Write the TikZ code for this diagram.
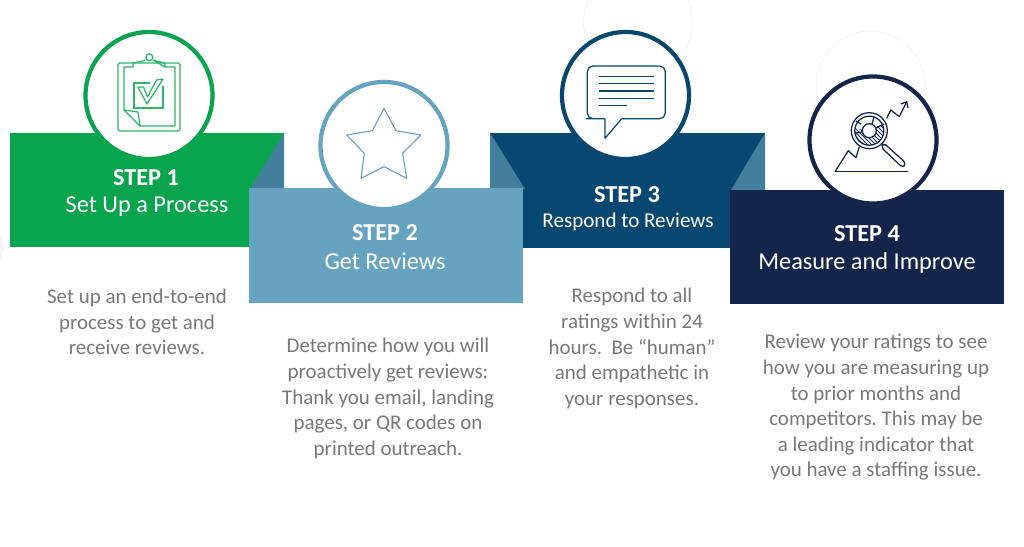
\documentclass[tikz,border=0pt]{standalone}
\usepackage{fontspec}
\setmainfont{Carlito}
\usepackage{xcolor}
\usetikzlibrary{positioning}
\frenchspacing
\definecolor{StepGreen}{RGB}{8,164,78}
\definecolor{StepSky}{RGB}{102,163,192}
\definecolor{StepNavy}{RGB}{8,72,112}
\definecolor{StepInk}{RGB}{19,37,74}
\definecolor{FoldBlue}{RGB}{65,127,156}
\definecolor{NoteGray}{RGB}{120,120,120}
\definecolor{TickGreen}{RGB}{46,181,107}
\tikzset{
    stepbox/.style={inner sep=0, outer sep=0, minimum width=6.85cm, minimum height=2.85cm},
    stepcircle/.style={draw, circle, fill=white, line width=3pt, minimum size=3.175cm, inner sep=0},
    ghost/.style={draw=gray!12, circle, line width=0.4pt, minimum size=2.72cm, inner sep=0},
    foldtri/.style={fill=FoldBlue},
    steptitle/.style={text=white, font=\fontsize{17.3}{20}\selectfont\bfseries, inner sep=0},
    stepname/.style={text=white, font=\fontsize{17.3}{20}\selectfont, inner sep=0},
    stepnote/.style={text=NoteGray, align=center, font=\fontsize{14.9}{18.2}\selectfont, inner sep=0},
    thinline/.style={line width=0.9pt, line join=round},
}
\begin{document}
\begin{tikzpicture}[x=0.025cm, y=-0.025cm]
\useasboundingbox (0,0) rectangle (1024,546);
\fill[gray!7] (0,232) -- (4,248) -- (0,262) -- cycle;
\node[ghost] (ghostthree) at (638,22) {};
\node[ghost] (ghostfour) at (870.5,85.5) {};

\node[stepbox, fill=StepGreen] (boxone) at (147,190) {};
\fill[foldtri] (284,133) -- (284,189) -- (250,189) -- cycle;
\node[stepbox, fill=StepNavy] (boxthree) at (627.5,190.5) {};
\fill[foldtri] (490,133) -- (490,189) -- (525,189) -- cycle;
\fill[foldtri] (765,133) -- (765,190) -- (731,190) -- cycle;
\node[stepbox, fill=StepSky] (boxtwo) at (386,245.5) {};
\node[stepbox, fill=StepInk] (boxfour) at (867,247) {};

\node[stepcircle, draw=StepGreen] (circleone) at (149,95.5) {};
\node[stepcircle, draw=StepSky] (circletwo) at (384,145.5) {};
\node[stepcircle, draw=StepNavy] (circlethree) at (625.5,95.5) {};
\node[stepcircle, draw=StepInk] (circlefour) at (873,140) {};

\draw[thinline, TickGreen, rounded corners=1pt] (118,63) rectangle (180,131);
\draw[thinline, TickGreen] (133,67) -- (124,67) -- (124,110) -- (140,126) -- (175,126) -- (175,67) -- (165,67);
\draw[thinline, TickGreen] (124,110) -- (138,112) -- (140,126);
\draw[thinline, TickGreen] (133,67) -- (133,63) -- (143,61) -- (145.5,60) (153,60) -- (156,61) -- (165,63) -- (165,67) -- cycle;
\draw[thinline, TickGreen] (149.3,57.3) circle (3.5);
\draw[line width=1.1pt, TickGreen] (134,83) rectangle (163,108);
\fill[white] (150,86) rectangle (166,78);
\draw[thinline, TickGreen] (138,87) -- (147,104) -- (163,79) -- (156.5,80) -- (147.5,97) -- (143.5,87) -- cycle;

\draw[line width=0.8pt, StepSky, line join=round] (384,108.3) -- (396,130.7) -- (420.7,135) -- (402.7,153.3) -- (406.7,178.3) -- (384,166.7) -- (361,178.3) -- (364.3,153.3) -- (346.7,135) -- (372.3,130.7) -- cycle;

\draw[thinline, StepNavy, rounded corners=4pt] (605,118.7) -- (592,118.7) -- (587.3,118.7) -- (587.3,66) -- (665.3,66) -- (665.3,118.7) -- (621.7,118.7);
\draw[thinline, StepNavy] (605,118.7) -- (605,138.3) -- (621.7,118.7);
\draw[line width=0.9pt, StepNavy] (598.7,76.3) -- (654,76.3);
\draw[line width=0.9pt, StepNavy] (598.7,83.7) -- (654,83.7);
\draw[line width=0.9pt, StepNavy] (598.7,91) -- (654,91);
\draw[line width=0.9pt, StepNavy] (598.7,98.3) -- (654,98.3);
\draw[line width=0.9pt, StepNavy] (598.7,105.7) -- (626.7,105.7);

\draw[thinline, StepInk] (835,171.7) -- (848.3,150.7) -- (856,157.7) -- (859.3,146.7);
\draw[thinline, StepInk] (835,171.7) -- (908,171.7);
\draw[thinline, StepInk] (886.7,118.3) -- (890.7,110) -- (899.3,116.7) -- (906.7,101.7);
\draw[thinline, StepInk] (901,104) -- (906.7,101.7) -- (908,108);
\begin{scope}
\clip (869.3,130.7) circle (14.5);
\foreach \hatch in {0,4,...,44}
    \draw[line width=0.6pt, StepInk] (845+\hatch,126) -- (875+\hatch,156);
\fill[white] (855,116) -- (884,116) -- (884,122) -- (869.3,130.7) -- (855,128) -- cycle;
\end{scope}
\draw[thinline, StepInk] (869.3,130.7) circle (18);
\draw[thinline, StepInk] (869.3,130.7) circle (14.5);
\draw[thinline, StepInk, fill=white] (869.3,130.7) circle (7);
\draw[thinline, StepInk] (861,124) -- (856,121) (872,124) -- (874,117) (876,128) -- (884,124) (855,133) -- (862,132);
\draw[thinline, StepInk, rounded corners=2.5pt] (884,143) -- (888,147) -- (906,163) -- (903,168) -- (885,151) -- (881,147) -- cycle;

\node[steptitle] (titleone) at (146,177.5) {STEP 1};
\node[stepname] (nameone) at (147,206.5) {Set Up a Process};
\node[steptitle] (titletwo) at (385,232.5) {STEP 2};
\node[stepname] (nametwo) at (385,261) {Get Reviews};
\node[steptitle] (titlethree) at (627,194.5) {STEP 3};
\node[stepname, font=\fontsize{15}{17}\selectfont] (namethree) at (628,222) {Respond to Reviews};
\node[steptitle] (titlefour) at (867,233.5) {STEP 4};
\node[stepname] (namefour) at (867,263) {Measure and Improve};

\node[stepnote] (noteone) at (137,322) {Set up an end-to-end\\process to get and\\receive reviews.};
\node[stepnote] (notetwo) at (388,398.5) {Determine how you will\\proactively get reviews:\\Thank you email, landing\\pages, or QR codes on\\printed outreach.};
\node[stepnote] (notethree) at (632,348.5) {Respond to all\\ratings within 24\\hours.\ \ Be ``human''\\and empathetic in\\your responses.};
\node[stepnote] (notefour) at (876,407.5) {Review your ratings to see\\how you are measuring up\\to prior months and\\competitors. This may be\\a leading indicator that\\you have a staffing issue.};
\end{tikzpicture}
\end{document}
